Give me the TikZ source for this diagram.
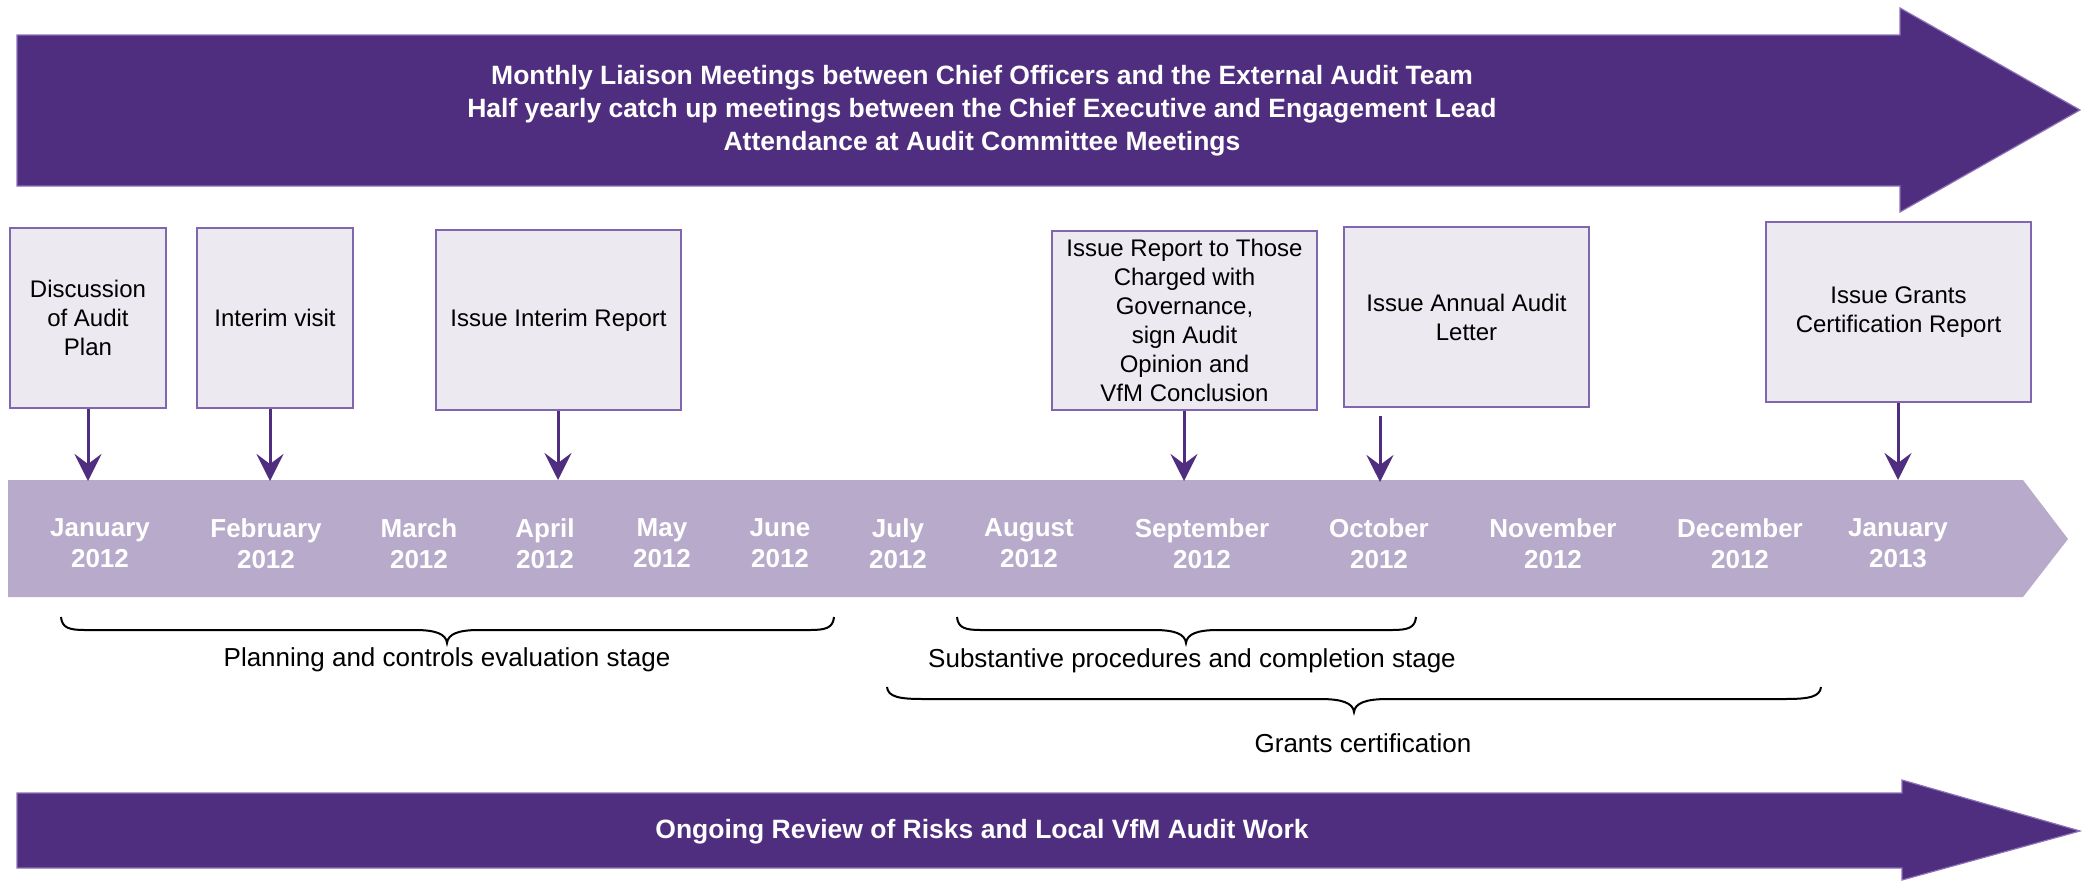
\documentclass[tikz,border=0pt]{standalone}
\usepackage{fontspec}
\setmainfont{Liberation Sans}
\usetikzlibrary{arrows.meta}
\definecolor{gtpurple}{HTML}{4F2D7F}
\definecolor{gtedge}{HTML}{8C72B8}
\definecolor{bandfill}{HTML}{B8AACB}
\definecolor{boxfill}{HTML}{ECE9F1}
\definecolor{boxedge}{HTML}{8066AE}
\newcommand\drawcurly[8]{% x1 x2 xm yE yS yT rEnd rTip
  \draw[bracepath] (#1,#4) .. controls (#1+1,#5-2) and (#1+0.35*#7,#5) .. (#1+#7,#5)
    -- (#3-#8,#5) .. controls (#3-0.35*#8,#5) and (#3-1,#5+4) .. (#3,#6)
    .. controls (#3+1,#5+4) and (#3+0.35*#8,#5) .. (#3+#8,#5)
    -- (#2-#7,#5) .. controls (#2-0.35*#7,#5) and (#2-1,#5-2) .. (#2,#4);}
\begin{document}
\begin{tikzpicture}[x=1pt,y=-1pt,
  bigarrow/.style={fill=gtpurple, draw=gtedge, line width=1.2pt, line join=miter},
  bandshape/.style={fill=bandfill},
  evbox/.style={draw=boxedge, fill=boxfill, line width=1.5pt, inner sep=2pt, align=center,
    font=\fontsize{24}{29}\selectfont},
  month/.style={text=white, align=center, font=\bfseries\fontsize{26}{31}\selectfont},
  arrowtext/.style={text=white, align=center, font=\bfseries\fontsize{26.5}{33}\selectfont},
  conn/.style={draw=gtpurple, line width=3pt, -{Stealth[length=27pt,width=27pt,inset=10pt]}},
  bracepath/.style={draw=black, line width=2pt},
  bracelabel/.style={font=\fontsize{26}{31}\selectfont}]
\useasboundingbox (0,0) rectangle (2091,881);

% top arrow
\path[bigarrow] (17,35) -- (1900,35) -- (1900,8) -- (2080,110) -- (1900,212) -- (1900,186) -- (17,186) -- cycle;
\node[arrowtext] (toptext) at (982,111) {Monthly Liaison Meetings between Chief Officers and the External Audit Team\\
Half yearly catch up meetings between the Chief Executive and Engagement Lead\\
Attendance at Audit Committee Meetings};

% timeline band
\path[bandshape] (8,480) -- (2023,480) -- (2068,539) -- (2023,597) -- (8,597) -- cycle;
\node[month] (m1) at (100,543.5) {January\\2012};
\node[month] (m2) at (266,543.5) {February\\2012};
\node[month] (m3) at (419,543.5) {March\\2012};
\node[month] (m4) at (545,543.5) {April\\2012};
\node[month] (m5) at (662,543.5) {May\\2012};
\node[month] (m6) at (780,543.5) {June\\2012};
\node[month] (m7) at (898,543.5) {July\\2012};
\node[month] (m8) at (1029,543.5) {August\\2012};
\node[month] (m9) at (1202,543.5) {September\\2012};
\node[month] (m10) at (1379,543.5) {October\\2012};
\node[month] (m11) at (1553,543.5) {November\\2012};
\node[month] (m12) at (1740,543.5) {December\\2012};
\node[month] (m13) at (1898,543.5) {January\\2013};

% event boxes
\node[evbox, minimum width=156pt, minimum height=180pt] (b1) at (88,318) {Discussion\\of Audit\\Plan};
\node[evbox, minimum width=156pt, minimum height=180pt] (b2) at (275,318) {Interim visit};
\node[evbox, minimum width=245pt, minimum height=180pt] (b3) at (558.5,320) {Issue Interim Report};
\node[evbox, minimum width=265pt, minimum height=179pt] (b4) at (1184.5,320.5) {Issue Report to Those\\Charged with\\Governance,\\sign Audit\\Opinion and\\VfM Conclusion};
\node[evbox, minimum width=245pt, minimum height=180pt] (b5) at (1466.5,317) {Issue Annual Audit\\Letter};
\node[evbox, minimum width=265pt, minimum height=180pt] (b6) at (1898.5,312) {Issue Grants\\Certification Report};

% connector end points on the band
\coordinate (t1) at (88,481);
\coordinate (t2) at (270,481);
\coordinate (t3) at (558,480);
\coordinate (t4) at (1184,481);
\coordinate (t5) at (1380,482);
\coordinate (t6) at (1898,480);
\draw[conn] (b1.south) -- (t1);
\draw[conn] (b2.south -| t2) -- (t2);
\draw[conn] (b3.south -| t3) -- (t3);
\draw[conn] (b4.south -| t4) -- (t4);
\draw[conn] ([yshift=-8pt]b5.south -| t5) -- (t5);
\draw[conn] (b6.south -| t6) -- (t6);

% braces
\drawcurly{61}{834}{447}{617}{630}{643}{24}{32}
\drawcurly{957}{1416}{1186}{617}{630}{643}{24}{32}
\drawcurly{887}{1821}{1354}{687}{699}{712}{36}{34}
\node[bracelabel] (l1) at (447,660) {Planning and controls evaluation stage};
\node[bracelabel] (l2) at (1192,661) {Substantive procedures and completion stage};
\node[bracelabel] (l3) at (1363,743) {Grants certification};

% bottom arrow
\path[bigarrow] (17,793) -- (1902,793) -- (1902,780) -- (2080,831) -- (1902,880) -- (1902,868) -- (17,868) -- cycle;
\node[arrowtext] (bottext) at (982,832) {Ongoing Review of Risks and Local VfM Audit Work};
\end{tikzpicture}
\end{document}
